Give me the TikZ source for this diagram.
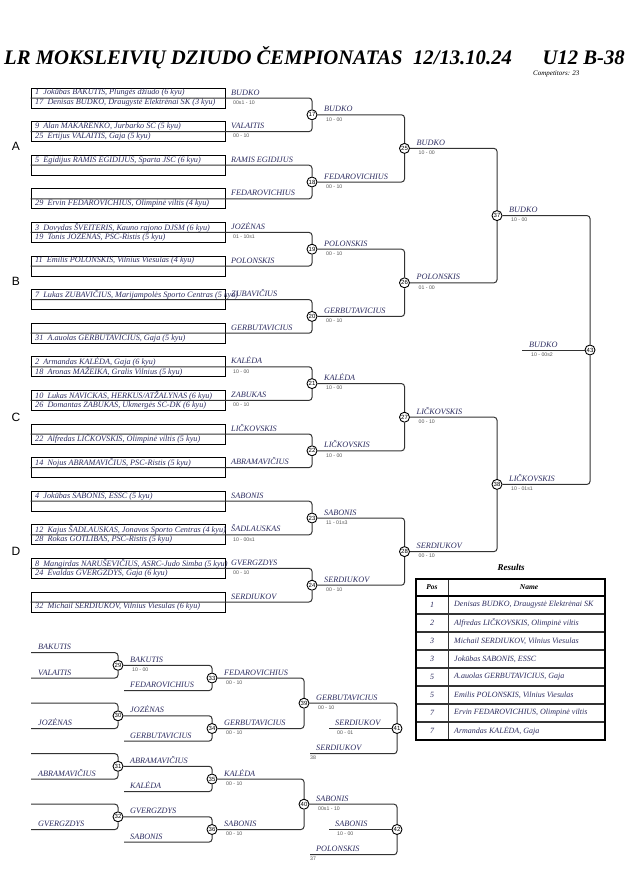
\documentclass[tikz,border=0pt]{standalone}
\usepackage{fontspec}
\setmainfont{Liberation Serif}
\setsansfont{Liberation Sans}
\usetikzlibrary{positioning,calc}
\definecolor{jbInk}{HTML}{2B2B5E}
\definecolor{jbLine}{HTML}{333333}
\definecolor{jbScore}{HTML}{555555}
\tikzset{
  % entry box: two rows, one judoka per row
  jb/box/.style={draw=black, line width=0.8pt, minimum width=194pt,
    minimum height=20pt, inner sep=0pt},
  jb/entry/.style={font=\fontsize{8.2}{9}\selectfont\itshape, text=jbInk,
    inner sep=0pt, anchor=west},
  % winner name above a line, score below it
  jb/win/.style={font=\fontsize{8.2}{9}\selectfont\itshape, text=jbInk,
    inner sep=0pt, anchor=base west},
  jb/score/.style={font=\sffamily\fontsize{5.2}{6}\selectfont, text=jbScore,
    inner sep=0pt, anchor=north west},
  % numbered bout
  jb/bout/.style={circle, draw=black, fill=white, line width=0.9pt,
    minimum size=10pt, inner sep=0pt, font=\sffamily\fontsize{6}{6}\selectfont},
  jb/wire/.style={draw=jbLine, line width=1pt, rounded corners=3pt},
  jb/pool/.style={font=\sffamily\fontsize{12}{12}\selectfont, inner sep=0pt},
  jb/cell/.style={font=\fontsize{8}{9}\selectfont\itshape, text=jbInk, inner sep=0pt},
}

\begin{document}
\begin{tikzpicture}[x=1pt,y=-1pt]
  \useasboundingbox (0,0) rectangle (630,891);

  \node[font=\fontsize{20.7}{24}\selectfont\bfseries\itshape, anchor=base west, inner sep=0pt]
    (title) at (4,65) {LR MOKSLEIVIŲ DZIUDO ČEMPIONATAS\hspace{0.5em}12/13.10.24};
  \node[font=\fontsize{20.7}{24}\selectfont\bfseries\itshape, anchor=base east, inner sep=0pt]
    (cat) at (625,65) {U12 B-38};
  \node[font=\fontsize{7}{8}\selectfont\itshape, anchor=west, inner sep=0pt]
    (comp) at (533,74) {Competitors: 23};

  \node[jb/pool] (poolA) at (16,146.5) {A};
  \node[jb/pool] (poolB) at (16,281) {B};
  \node[jb/pool] (poolC) at (16,417) {C};
  \node[jb/pool] (poolD) at (16,551) {D};

  % bouts of the main table
  \foreach \j in {1,...,8}{
    \pgfmathtruncatemacro\n{16+\j}
    \node[jb/bout] (m\n) at (312,{114.8+67.2*(\j-1)}) {\n};}
  \node[jb/bout] (m25) at (404.5,148.4) {25};
  \node[jb/bout] (m26) at (404.5,282.8) {26};
  \node[jb/bout] (m27) at (404.5,417.2) {27};
  \node[jb/bout] (m28) at (404.5,551.6) {28};
  \node[jb/bout] (m37) at (497,215.6) {37};
  \node[jb/bout] (m38) at (497,484.4) {38};
  \node[jb/bout] (m43) at (590,350) {43};

  % first round entries
  \foreach \k/\top/\bot/\win/\sc in {
    1/{1\ \ Jokūbas BAKUTIS, Plungės džiudo (6 kyu)}/{17\ \ Denisas BUDKO, Draugystė Elektrėnai SK (3 kyu)}/BUDKO/{00s1 - 10},
    2/{9\ \ Alan MAKARENKO, Jurbarko SC (5 kyu)}/{25\ \ Ertijus VALAITIS, Gaja (5 kyu)}/VALAITIS/{00 - 10},
    3/{5\ \ Egidijus RAMIS EGIDIJUS, Sparta JSC (6 kyu)}/{}/RAMIS EGIDIJUS/{},
    4/{}/{29\ \ Ervin FEDAROVICHIUS, Olimpinė viltis (4 kyu)}/FEDAROVICHIUS/{},
    5/{3\ \ Dovydas ŠVEITERIS, Kauno rajono DJSM (6 kyu)}/{19\ \ Tonis JOZĖNAS, PSC-Ristis (5 kyu)}/JOZĖNAS/{01 - 10s1},
    6/{11\ \ Emilis POLONSKIS, Vilnius Viesulas (4 kyu)}/{}/POLONSKIS/{},
    7/{7\ \ Lukas ZUBAVIČIUS, Marijampolės Sporto Centras (5 kyu)}/{}/ZUBAVIČIUS/{},
    8/{}/{31\ \ A.auolas GERBUTAVICIUS, Gaja (5 kyu)}/GERBUTAVICIUS/{},
    9/{2\ \ Armandas KALĖDA, Gaja (6 kyu)}/{18\ \ Aronas MAŽEIKA, Gralis Vilnius (5 kyu)}/KALĖDA/{10 - 00},
    10/{10\ \ Lukas NAVICKAS, HERKUS/ATŽALYNAS (6 kyu)}/{26\ \ Domantas ZABUKAS, Ukmergės SC-DK (6 kyu)}/ZABUKAS/{00 - 10},
    11/{}/{22\ \ Alfredas LIČKOVSKIS, Olimpinė viltis (5 kyu)}/LIČKOVSKIS/{},
    12/{14\ \ Nojus ABRAMAVIČIUS, PSC-Ristis (5 kyu)}/{}/ABRAMAVIČIUS/{},
    13/{4\ \ Jokūbas SABONIS, ESSC (5 kyu)}/{}/SABONIS/{},
    14/{12\ \ Kajus ŠADLAUSKAS, Jonavos Sporto Centras (4 kyu)}/{28\ \ Rokas GOTLIBAS, PSC-Ristis (5 kyu)}/ŠADLAUSKAS/{10 - 00s1},
    15/{8\ \ Mangirdas NARUŠEVIČIUS, ASRC-Judo Simba (5 kyu)}/{24\ \ Evaldas GVERGZDYS, Gaja (6 kyu)}/GVERGZDYS/{00 - 10},
    16/{}/{32\ \ Michail SERDIUKOV, Vilnius Viesulas (6 kyu)}/SERDIUKOV/{}}{
    \pgfmathsetmacro\y{88+33.6*(\k-1)}
    \pgfmathtruncatemacro\m{16+int((\k+1)/2)}
    \pgfmathtruncatemacro\odd{mod(\k,2)}
    \edef\side{\ifnum\odd=1 north\else south\fi}
    \node[jb/box] (p\k) at (128,\y+10) {};
    \node[jb/entry] (t\k) at (35,\y+5) {\top};
    \node[jb/entry] (b\k) at (35,\y+15) {\bot};
    \draw[jb/wire] (p\k.west) -| (m\m.\side);
    \node[jb/win] (w\k) at (231,\y+7) {\win};
    \node[jb/score] (s\k) at (233,\y+12.5) {\sc};
  }

  \foreach \a/\b/\s in {17/25/north,18/25/south,19/26/north,20/26/south,
    21/27/north,22/27/south,23/28/north,24/28/south,
    25/37/north,26/37/south,27/38/north,28/38/south,37/43/north,38/43/south}
    \draw[jb/wire] (m\a.east) -| (m\b.\s);
  \coordinate (fin) at (522,350);
  \draw[jb/wire] (fin) -- (m43.west);

  \foreach \m/\win/\sc in {17/BUDKO/{10 - 00},18/FEDAROVICHIUS/{00 - 10},
    19/POLONSKIS/{00 - 10},20/GERBUTAVICIUS/{00 - 10},21/KALĖDA/{10 - 00},
    22/LIČKOVSKIS/{10 - 00},23/SABONIS/{11 - 01s3},24/SERDIUKOV/{00 - 10},
    25/BUDKO/{10 - 00},26/POLONSKIS/{01 - 00},27/LIČKOVSKIS/{00 - 10},
    28/SERDIUKOV/{00 - 10},37/BUDKO/{10 - 00},38/LIČKOVSKIS/{10 - 01s1}}{
    \node[jb/win] (wm\m) at ($(m\m)+(12,-3)$) {\win};
    \node[jb/score] (sm\m) at ($(m\m)+(14,2.5)$) {\sc};}
  \node[jb/win] (wfin) at (529,347) {BUDKO};
  \node[jb/score] (sfin) at (531,352.5) {10 - 00s2};

  % repechage
  \node[jb/bout] (r29) at (118,665.3) {29};
  \node[jb/bout] (r30) at (118,715.8) {30};
  \node[jb/bout] (r31) at (118,766.3) {31};
  \node[jb/bout] (r32) at (118,816.8) {32};
  \node[jb/bout] (r33) at (212,678.0) {33};
  \node[jb/bout] (r34) at (212,728.5) {34};
  \node[jb/bout] (r35) at (212,779.0) {35};
  \node[jb/bout] (r36) at (212,829.5) {36};
  \node[jb/bout] (r39) at (304,703.2) {39};
  \node[jb/bout] (r40) at (304,804.2) {40};
  \node[jb/bout] (r41) at (397,728.5) {41};
  \node[jb/bout] (r42) at (397,829.5) {42};

  \foreach \i/\y/\r/\s/\win in {1/652.7/29/north/BAKUTIS,2/678.0/29/south/VALAITIS,
    3/703.2/30/north/{},4/728.5/30/south/JOZĖNAS,5/753.7/31/north/{},
    6/779.0/31/south/ABRAMAVIČIUS,7/804.2/32/north/{},8/829.5/32/south/GVERGZDYS}{
    \coordinate (q\i) at (31,\y);
    \draw[jb/wire] (q\i) -| (r\r.\s);
    \node[jb/win] (wq\i) at (38,\y-3) {\win};}
  \foreach \i/\y/\r/\win in {1/690.6/33/FEDAROVICHIUS,2/741.1/34/GERBUTAVICIUS,
    3/791.6/35/KALĖDA,4/842.1/36/SABONIS}{
    \coordinate (v\i) at (124,\y);
    \draw[jb/wire] (v\i) -| (r\r.south);
    \node[jb/win] (wv\i) at (130,\y-3) {\win};}
  \foreach \a/\b/\s in {29/33/north,30/34/north,31/35/north,32/36/north,
    33/39/north,34/39/south,35/40/north,36/40/south,39/41/north,40/42/north}
    \draw[jb/wire] (r\a.east) -| (r\b.\s);
  \foreach \m/\win/\sc in {29/BAKUTIS/{10 - 00},30/JOZĖNAS/{},31/ABRAMAVIČIUS/{},
    32/GVERGZDYS/{},33/FEDAROVICHIUS/{00 - 10},34/GERBUTAVICIUS/{00 - 10},
    35/KALĖDA/{00 - 10},36/SABONIS/{00 - 10},39/GERBUTAVICIUS/{00 - 10},
    40/SABONIS/{00s1 - 10}}{
    \node[jb/win] (wr\m) at ($(r\m)+(12,-3)$) {\win};
    \node[jb/score] (sr\m) at ($(r\m)+(14,2.5)$) {\sc};}

  \coordinate (low41) at (310,753.7);
  \coordinate (low42) at (310,854.7);
  \coordinate (in41) at (329,728.5);
  \coordinate (in42) at (329,829.5);
  \draw[jb/wire] (low41) -| (r41.south);
  \draw[jb/wire] (low42) -| (r42.south);
  \draw[jb/wire] (in41) -- (r41.west);
  \draw[jb/wire] (in42) -- (r42.west);
  \node[jb/win] (wl41) at (316,750.7) {SERDIUKOV};
  \node[jb/score] (sl41) at (310,755.7) {38};
  \node[jb/win] (wl42) at (316,851.7) {POLONSKIS};
  \node[jb/score] (sl42) at (310,856.7) {37};
  \node[jb/win] (wi41) at (335,725.5) {SERDIUKOV};
  \node[jb/score] (si41) at (337,731) {00 - 01};
  \node[jb/win] (wi42) at (335,826.5) {SABONIS};
  \node[jb/score] (si42) at (337,832) {10 - 00};

  % results table
  \node[font=\fontsize{9}{10}\selectfont\bfseries\itshape, inner sep=0pt] (res) at (511,567) {Results};
  \draw[draw=jbLine, line width=1pt] (448,579) -- (448,740);
  \foreach \i in {1,...,7}
    \draw[draw=jbLine, line width=1.1pt] (416,{596+18*\i}) -- (605,{596+18*\i});
  \draw[line width=1.4pt] (416,596) -- (605,596);
  \draw[line width=1.6pt] (416,579) rectangle (605,740);
  \node[jb/cell, font=\fontsize{7.5}{8}\selectfont\bfseries\itshape, text=black] (hpos) at (432,587.5) {Pos};
  \node[jb/cell, font=\fontsize{7.5}{8}\selectfont\bfseries\itshape, text=black] (hname) at (529,587.5) {Name};
  \foreach \i/\p/\who in {1/1/{Denisas BUDKO, Draugystė Elektrėnai SK},
    2/2/{Alfredas LIČKOVSKIS, Olimpinė viltis},3/3/{Michail SERDIUKOV, Vilnius Viesulas},
    4/3/{Jokūbas SABONIS, ESSC},5/5/{A.auolas GERBUTAVICIUS, Gaja},
    6/5/{Emilis POLONSKIS, Vilnius Viesulas},7/7/{Ervin FEDAROVICHIUS, Olimpinė viltis},
    8/7/{Armandas KALĖDA, Gaja}}{
    \node[jb/cell] (pos\i) at (432,{587+18*\i}) {\p};
    \node[jb/cell, anchor=west] (nm\i) at (454,{587+18*\i}) {\who};}
\end{tikzpicture}
\end{document}
